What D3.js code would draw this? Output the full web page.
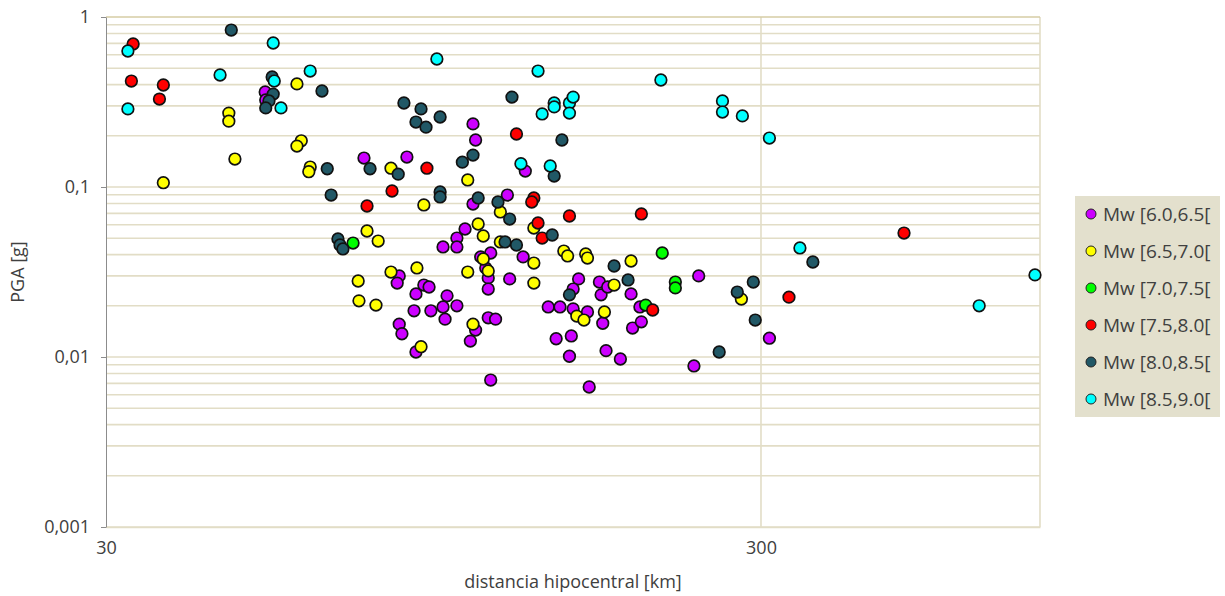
<!DOCTYPE html>
<html>
<head>
<meta charset="utf-8">
<script src="https://cdn.jsdelivr.net/npm/d3@7"></script>
<style>
  body { margin: 0; background: #fff; }
  text { font-family: "Open Sans", "Noto Sans", sans-serif; fill: #404040; }
</style>
</head>
<body>
<div id="chart"></div>
<script>
// categorías (rangos de magnitud) y colores
const categorias = ["Mw [6.0,6.5[", "Mw [6.5,7.0[", "Mw [7.0,7.5[", "Mw [7.5,8.0[", "Mw [8.0,8.5[", "Mw [8.5,9.0["];
const colores = ["#cc00ff", "#ffff00", "#00ff00", "#ff0000", "#215866", "#00ffff"];

// [distancia hipocentral km, PGA g]
const mw60 = [
  [52.5, 0.362], [52.6, 0.325], [74.3, 0.148], [86.4, 0.150], [109, 0.235], [110, 0.189],
  [131, 0.124], [123, 0.0897], [109, 0.0794], [106, 0.0566], [103, 0.0501], [103, 0.0444],
  [98.1, 0.0444], [112, 0.0388], [116, 0.0409], [130, 0.0388], [114, 0.0334], [115, 0.0292],
  [115, 0.0251], [124, 0.0288], [84.1, 0.0300], [83.5, 0.0272], [91.7, 0.0265], [93.4, 0.0258],
  [89.2, 0.0235], [99.5, 0.0229], [88.6, 0.0187], [94.0, 0.0187], [98.1, 0.0197], [103, 0.0200],
  [98.8, 0.0167], [84.1, 0.0156], [84.9, 0.0137], [89.2, 0.0107], [110, 0.0144], [108, 0.0124],
  [115, 0.0170], [118, 0.0167], [116, 0.00732], [142, 0.0197], [148, 0.0197], [155, 0.0192],
  [163, 0.0184], [158, 0.0288], [155, 0.0251], [170, 0.0276], [171, 0.0232], [175, 0.0258],
  [190, 0.0235], [196, 0.0197], [172, 0.0158], [191, 0.0148], [197, 0.0161], [146, 0.0128],
  [154, 0.0133], [153, 0.0101], [174, 0.0109], [183, 0.00973], [164, 0.00666], [237, 0.00886],
  [241, 0.0300], [309, 0.0129]
];
const mw65 = [
  [46.2, 0.272], [46.2, 0.244], [47.2, 0.146], [36.7, 0.106], [58.7, 0.404], [59.6, 0.187],
  [58.7, 0.174], [61.5, 0.131], [61.2, 0.123], [81.7, 0.129], [75.1, 0.0551], [78.1, 0.0481],
  [72.8, 0.0280], [73.0, 0.0214], [77.5, 0.0202], [81.7, 0.0316], [107, 0.110], [91.7, 0.0784],
  [111, 0.0606], [113, 0.0515], [120, 0.0713], [135, 0.0574], [120, 0.0475], [150, 0.0420],
  [152, 0.0393], [162, 0.0404], [163, 0.0382], [190, 0.0367], [135, 0.0357], [113, 0.0377],
  [115, 0.0321], [107, 0.0316], [89.5, 0.0334], [135, 0.0272], [179, 0.0265], [157, 0.0174],
  [161, 0.0165], [173, 0.0184], [109, 0.0156], [90.8, 0.0115], [280, 0.0219]
];
const mw70 = [
  [71.5, 0.0468], [212, 0.0409], [222, 0.0276], [222, 0.0255], [200, 0.0202]
];
const mw75 = [
  [33.0, 0.694], [32.8, 0.420], [36.7, 0.398], [36.2, 0.329], [82.0, 0.0947], [127, 0.205],
  [92.7, 0.129], [75.1, 0.0773], [135, 0.0862], [134, 0.0816], [153, 0.0675], [197, 0.0694],
  [137, 0.0614], [139, 0.0501], [205, 0.0189], [331, 0.0225], [496, 0.0536]
];
const mw80 = [
  [46.6, 0.838], [53.8, 0.444], [54.0, 0.352], [53.2, 0.321], [52.6, 0.292], [64.1, 0.367],
  [65.3, 0.128], [75.9, 0.128], [83.8, 0.119], [85.5, 0.312], [90.8, 0.288], [89.2, 0.241],
  [92.4, 0.225], [97.1, 0.258], [125, 0.338], [149, 0.189], [109, 0.154], [105, 0.140],
  [145, 0.116], [66.2, 0.0897], [97.1, 0.0935], [97.1, 0.0874], [111, 0.0862], [119, 0.0816],
  [124, 0.0648], [144, 0.0522], [122, 0.0475], [127, 0.0456], [67.8, 0.0495], [68.3, 0.0456],
  [69.0, 0.0432], [179, 0.0343], [188, 0.0284], [153, 0.0232], [276, 0.0241], [292, 0.0276],
  [294, 0.0165], [259, 0.0107], [360, 0.0362]
];
const mw85 = [
  [32.4, 0.631], [32.4, 0.288], [44.8, 0.456], [54.0, 0.703], [54.2, 0.420], [55.5, 0.292],
  [61.5, 0.481], [96.0, 0.566], [137, 0.481], [145, 0.312], [145, 0.296], [139, 0.269],
  [153, 0.312], [153, 0.272], [155, 0.338], [211, 0.426], [262, 0.321], [262, 0.276],
  [281, 0.262], [309, 0.194], [129, 0.137], [143, 0.133], [344, 0.0438], [646, 0.0200],
  [786, 0.0304]
];
const series = [mw60, mw65, mw70, mw75, mw80, mw85];

// ejes
const xTicks = [30, 300];
const xTickLabels = ["30", "300"];
const yTicks = [0.001, 0.01, 0.1, 1];
const yTickLabels = ["0,001", "0,01", "0,1", "1"];

const W = 1225, H = 596;
const margin = { top: 17, right: 185, bottom: 69, left: 106 };
const width = W - margin.left - margin.right;
const height = H - margin.top - margin.bottom;

const svg = d3.select("#chart").append("svg")
  .attr("width", W)
  .attr("height", H);

const g = svg.append("g")
  .attr("transform", `translate(${margin.left},${margin.top})`);

const x = d3.scaleLog().domain([30, 800]).range([0, width]);
const y = d3.scaleLog().domain([0.001, 1]).range([height, 0]);

// líneas de división horizontales (1..9 en cada década)
const yGrid = [];
for (let e = -3; e < 0; e++) {
  for (let k = 1; k <= 9; k++) yGrid.push(k * Math.pow(10, e));
}
g.selectAll(".hgrid")
  .data(yGrid)
  .enter()
  .append("line")
  .attr("class", "hgrid")
  .attr("x1", 0)
  .attr("x2", width)
  .attr("y1", d => y(d))
  .attr("y2", d => y(d))
  .style("stroke", "#e2ddc6")
  .style("stroke-width", 1.6);

// línea vertical en 300
g.append("line")
  .attr("x1", x(300)).attr("x2", x(300))
  .attr("y1", 0).attr("y2", height)
  .style("stroke", "#e2ddc6")
  .style("stroke-width", 1.6);

// borde derecho y superior
g.append("line")
  .attr("x1", width).attr("x2", width)
  .attr("y1", 0).attr("y2", height)
  .style("stroke", "#e2ddc6")
  .style("stroke-width", 1.6);
g.append("line")
  .attr("x1", 0).attr("x2", width)
  .attr("y1", 0).attr("y2", 0)
  .style("stroke", "#d6cca4")
  .style("stroke-width", 1.6);

// eje X
const xAxis = g.append("g")
  .attr("transform", `translate(0,${height})`)
  .call(d3.axisBottom(x)
    .tickValues(xTicks)
    .tickFormat((d, i) => xTickLabels[i])
    .tickSize(0)
    .tickPadding(14));
xAxis.select(".domain").style("stroke", "#e2ddc6").style("stroke-width", 1.6);
xAxis.selectAll("text").style("font-size", "18px").style("fill", "#404040");

// eje Y
const yAxis = g.append("g")
  .call(d3.axisLeft(y)
    .tickValues(yTicks)
    .tickFormat((d, i) => yTickLabels[i])
    .tickSize(5)
    .tickPadding(11)
    .tickSizeOuter(0));
yAxis.select(".domain").style("stroke", "#8c8c8c").style("stroke-width", 1);
yAxis.selectAll(".tick line").style("stroke", "#8c8c8c");
yAxis.selectAll("text").style("font-size", "18px").style("fill", "#404040");

// títulos
svg.append("text")
  .attr("x", 573)
  .attr("y", 588)
  .attr("text-anchor", "middle")
  .style("font-size", "18px")
  .text("distancia hipocentral [km]");

svg.append("text")
  .attr("transform", `translate(24,${margin.top + height / 2}) rotate(-90)`)
  .attr("text-anchor", "middle")
  .style("font-size", "18px")
  .text("PGA [g]");

// puntos
series.forEach((datos, i) => {
  g.append("g")
    .selectAll("circle")
    .data(datos)
    .enter()
    .append("circle")
    .attr("cx", d => x(d[0]))
    .attr("cy", d => y(d[1]))
    .attr("r", 5.8)
    .style("fill", colores[i])
    .style("stroke", "#111")
    .style("stroke-width", 1.7);
});

// leyenda
const leyenda = svg.append("g").attr("transform", "translate(1075,196)");
leyenda.append("rect")
  .attr("width", 145)
  .attr("height", 221)
  .style("fill", "#e3e0cd");

const item = leyenda.selectAll(".item")
  .data(categorias)
  .enter()
  .append("g")
  .attr("class", "item")
  .attr("transform", (d, i) => `translate(16,${18 + i * 37})`);

item.append("circle")
  .attr("r", 5)
  .style("fill", (d, i) => colores[i])
  .style("stroke", "#222")
  .style("stroke-width", 1);

item.append("text")
  .attr("x", 12)
  .attr("dy", "0.35em")
  .style("font-size", "19px")
  .text(d => d);
</script>
</body>
</html>
